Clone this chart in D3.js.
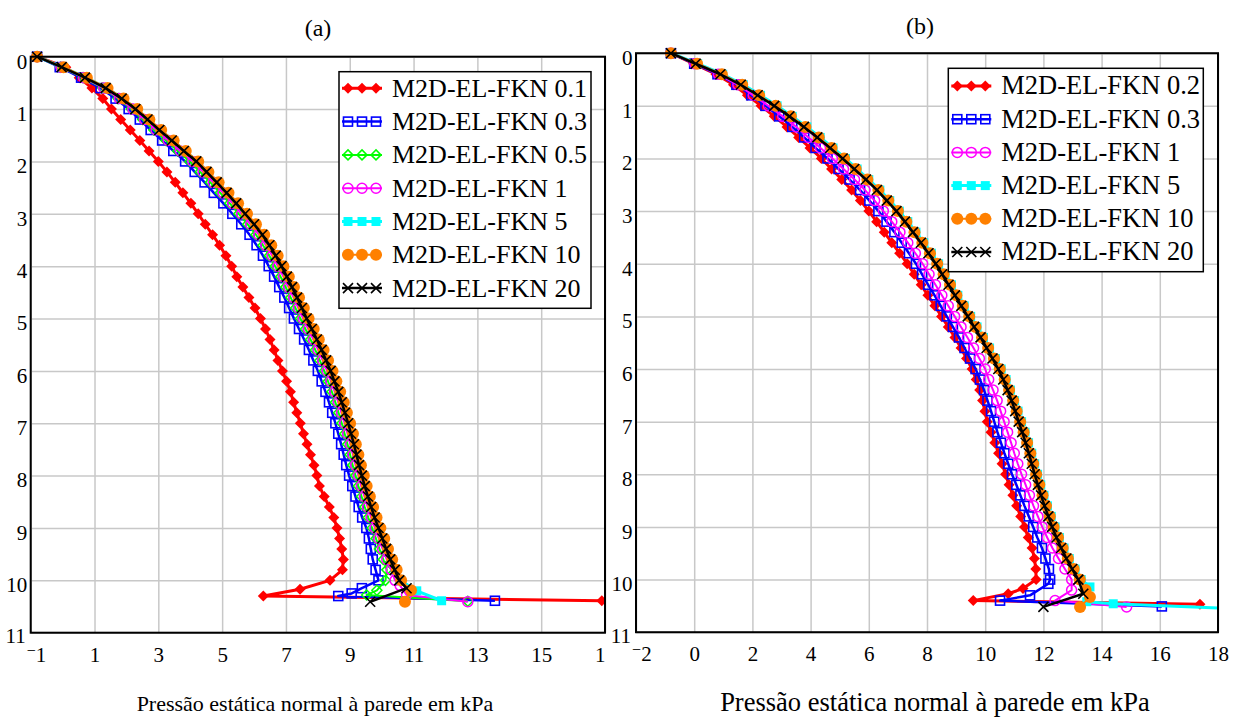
<!DOCTYPE html>
<html><head><meta charset="utf-8">
<script src="https://cdn.jsdelivr.net/npm/d3@7/dist/d3.min.js"></script>
<style>
body{margin:0;background:#fff}
svg text{font-family:"Liberation Serif","Tinos","Times New Roman","Nimbus Roman","FreeSerif","DejaVu Serif",serif !important;fill:#000}
</style>
</head><body>
<svg id="c" width="1233" height="718"></svg>
<script>
// ---------- DATA ----------
const depth = [0,0.2,0.4,0.6,0.8,1,1.2,1.4,1.6,1.8,2,2.2,2.4,2.6,2.8,3,3.2,3.4,3.6,3.8,4,4.2,4.4,4.6,4.8,5,5.2,5.4,5.6,5.8,6,6.2,6.4,6.6,6.8,7,7.2,7.4,7.6,7.8,8,8.2,8.4,8.6,8.8,9,9.2,9.4,9.6,9.8,10];

// Panel (a)
const a_01 = [-0.80,0.10,0.52,0.92,1.26,1.53,1.82,2.12,2.42,2.71,3.00,3.27,3.53,3.77,4.02,4.25,4.47,4.70,4.92,5.12,5.30,5.46,5.65,5.84,6.03,6.20,6.36,6.50,6.63,6.75,6.89,7.02,7.14,7.24,7.34,7.45,7.55,7.66,7.77,7.88,7.97,8.05,8.20,8.36,8.50,8.60,8.68,8.75,8.80,8.77,8.38];
const a_03 = [-0.80,-0.09,0.58,1.19,1.66,2.07,2.42,2.76,3.12,3.47,3.84,4.14,4.45,4.74,5.04,5.32,5.60,5.86,6.08,6.28,6.46,6.63,6.79,6.95,7.10,7.25,7.41,7.57,7.72,7.86,8.00,8.12,8.24,8.35,8.45,8.55,8.64,8.73,8.81,8.89,8.98,9.08,9.18,9.28,9.39,9.52,9.60,9.66,9.72,9.81,9.90];
const a_05 = [-0.80,-0.06,0.64,1.26,1.74,2.15,2.51,2.86,3.24,3.61,3.99,4.31,4.63,4.94,5.24,5.52,5.80,6.06,6.28,6.48,6.66,6.83,6.99,7.15,7.30,7.45,7.61,7.77,7.92,8.06,8.20,8.32,8.44,8.55,8.65,8.75,8.84,8.93,9.01,9.09,9.18,9.27,9.37,9.47,9.58,9.70,9.82,9.93,10.05,10.16,10.12];
const a_1 = [-0.80,-0.05,0.66,1.29,1.78,2.20,2.57,2.93,3.31,3.69,4.08,4.40,4.72,5.03,5.33,5.61,5.89,6.15,6.37,6.57,6.75,6.92,7.08,7.24,7.39,7.54,7.70,7.86,8.01,8.15,8.29,8.41,8.53,8.64,8.74,8.84,8.93,9.02,9.10,9.18,9.27,9.36,9.46,9.56,9.67,9.79,9.91,10.03,10.16,10.30,10.42];
const a_5 = [-0.80,0.00,0.73,1.38,1.88,2.31,2.69,3.06,3.45,3.83,4.22,4.54,4.86,5.17,5.47,5.75,6.03,6.29,6.51,6.71,6.89,7.06,7.22,7.38,7.53,7.68,7.84,8.00,8.15,8.29,8.43,8.55,8.67,8.78,8.88,8.98,9.07,9.16,9.24,9.32,9.41,9.50,9.60,9.70,9.81,9.93,10.05,10.17,10.30,10.44,10.58];
const a_10 = [-0.80,0.03,0.76,1.41,1.91,2.34,2.72,3.09,3.48,3.86,4.25,4.57,4.89,5.20,5.50,5.78,6.06,6.32,6.54,6.74,6.92,7.09,7.25,7.41,7.56,7.71,7.87,8.03,8.18,8.32,8.46,8.58,8.70,8.81,8.91,9.01,9.10,9.19,9.27,9.35,9.44,9.53,9.63,9.73,9.84,9.96,10.08,10.20,10.33,10.47,10.61];
const a_20 = [-0.80,-0.03,0.70,1.35,1.85,2.28,2.66,3.03,3.42,3.80,4.19,4.51,4.83,5.14,5.44,5.72,6.00,6.26,6.48,6.68,6.86,7.03,7.19,7.35,7.50,7.65,7.81,7.97,8.12,8.26,8.40,8.52,8.64,8.75,8.85,8.95,9.04,9.13,9.21,9.29,9.38,9.47,9.57,9.67,9.78,9.90,10.02,10.14,10.27,10.41,10.55];
const a_01_tailD = [10.17,10.30,10.39], a_01_tailP = [7.44,6.29,16.90];
const a_03_tailD = [10.15,10.25,10.30,10.39], a_03_tailP = [9.38,9.06,8.64,13.55];
const a_05_tailD = [10.19,10.28,10.40], a_05_tailP = [9.85,9.53,12.70];
const a_1_tailD = [10.10,10.28,10.41], a_1_tailP = [10.58,10.78,12.70];
const a_5_tailD = [10.20,10.39], a_5_tailP = [11.10,11.88];
const a_10_tailD = [10.19,10.41], a_10_tailP = [10.92,10.73];
const a_20_tailD = [10.15,10.41], a_20_tailP = [10.78,9.64];

// Panel (b)
const b_02 = [-0.80,-0.02,0.75,1.35,1.83,2.30,2.75,3.19,3.59,3.98,4.37,4.72,5.07,5.41,5.71,6.00,6.27,6.53,6.79,7.06,7.32,7.56,7.80,8.03,8.27,8.50,8.73,8.96,9.17,9.36,9.55,9.69,9.81,9.91,9.99,10.07,10.20,10.33,10.46,10.58,10.70,10.82,10.95,11.08,11.22,11.35,11.48,11.61,11.69,11.74,11.75];
const b_03 = [-0.80,0.00,0.80,1.45,1.96,2.45,2.92,3.37,3.78,4.17,4.58,4.96,5.34,5.70,6.02,6.33,6.61,6.88,7.13,7.38,7.62,7.83,8.04,8.26,8.47,8.68,8.89,9.10,9.29,9.48,9.67,9.82,9.96,10.08,10.20,10.31,10.42,10.54,10.66,10.79,10.92,11.07,11.21,11.35,11.50,11.65,11.79,11.95,12.07,12.19,12.23];
const b_1 = [-0.80,0.02,0.83,1.50,2.03,2.55,3.04,3.51,3.93,4.34,4.75,5.13,5.51,5.87,6.20,6.50,6.79,7.07,7.34,7.60,7.85,8.07,8.29,8.51,8.73,8.95,9.17,9.39,9.60,9.80,10.00,10.12,10.27,10.41,10.53,10.65,10.77,10.89,11.00,11.12,11.25,11.39,11.52,11.66,11.81,11.96,12.13,12.31,12.52,12.74,12.97];
const b_5 = [-0.80,0.12,0.98,1.69,2.28,2.85,3.37,3.87,4.33,4.77,5.20,5.60,6.00,6.38,6.72,7.05,7.34,7.62,7.89,8.15,8.40,8.62,8.84,9.06,9.28,9.50,9.72,9.94,10.15,10.35,10.55,10.72,10.87,11.01,11.13,11.25,11.37,11.49,11.60,11.70,11.80,11.91,12.02,12.14,12.27,12.40,12.55,12.71,12.89,13.09,13.30];
const b_10 = [-0.80,0.10,0.95,1.65,2.23,2.80,3.32,3.82,4.28,4.72,5.15,5.55,5.95,6.33,6.67,7.00,7.29,7.57,7.84,8.10,8.35,8.57,8.79,9.01,9.23,9.45,9.67,9.89,10.10,10.30,10.50,10.67,10.82,10.96,11.08,11.20,11.32,11.44,11.55,11.65,11.75,11.86,11.97,12.09,12.22,12.35,12.50,12.66,12.84,13.04,13.25];
const b_20 = [-0.80,0.05,0.90,1.60,2.18,2.75,3.27,3.77,4.23,4.67,5.10,5.50,5.90,6.28,6.62,6.95,7.24,7.52,7.79,8.05,8.30,8.52,8.74,8.96,9.18,9.40,9.62,9.84,10.05,10.25,10.45,10.62,10.77,10.91,11.03,11.15,11.27,11.39,11.50,11.60,11.70,11.81,11.92,12.04,12.17,12.30,12.45,12.61,12.79,12.99,13.20];
const b_02_tailD = [10.17,10.27,10.40,10.47], b_02_tailP = [11.30,10.79,9.59,17.38];
const b_03_tailD = [10.08,10.30,10.40,10.51], b_03_tailP = [12.17,11.54,10.51,16.07];
const b_1_tailD = [10.20,10.40,10.52], b_1_tailP = [12.97,12.40,14.86];
const b_5_tailD = [10.14,10.42,10.46,10.55], b_5_tailP = [13.60,13.49,14.40,18.40];
const b_10_tailD = [10.20,10.33,10.52], b_10_tailP = [13.45,13.60,13.26];
const b_20_tailD = [10.27,10.52], b_20_tailP = [13.37,12.00];

const labelsA = ["M2D-EL-FKN 0.1","M2D-EL-FKN 0.3","M2D-EL-FKN 0.5","M2D-EL-FKN 1","M2D-EL-FKN 5","M2D-EL-FKN 10","M2D-EL-FKN 20"];
const labelsB = ["M2D-EL-FKN 0.2","M2D-EL-FKN 0.3","M2D-EL-FKN 1","M2D-EL-FKN 5","M2D-EL-FKN 10","M2D-EL-FKN 20"];
const xTicksA = [-1,1,3,5,7,9,11,13,15,17];
const xTicksB = [-2,0,2,4,6,8,10,12,14,16,18];
const yTicks = [0,1,2,3,4,5,6,7,8,9,10,11];
const axisTitle = "Pressão estática normal à parede em kPa";

// ---------- STYLES ----------
const sty = {
  red:    {color:"#ff0000", w:3,   m:"diamondFill"},
  blue:   {color:"#0000ff", w:2.5, m:"squareOpen"},
  green:  {color:"#00ff00", w:2,   m:"diamondOpen"},
  mag:    {color:"#ff00ff", w:2,   m:"circleOpen"},
  cyan:   {color:"#00ffff", w:3,   m:"squareFill"},
  orange: {color:"#ff8000", w:2,   m:"circleFill"},
  black:  {color:"#000000", w:2.5, m:"cross"}
};
function pts(p, tD, tP){ return depth.map((d,i)=>[p[i],d]).concat(tD.map((d,i)=>[tP[i],d])); }

const seriesA = [
  {label:labelsA[0], s:sty.red,    data:pts(a_01,a_01_tailD,a_01_tailP)},
  {label:labelsA[1], s:sty.blue,   data:pts(a_03,a_03_tailD,a_03_tailP)},
  {label:labelsA[2], s:sty.green,  data:pts(a_05,a_05_tailD,a_05_tailP)},
  {label:labelsA[3], s:sty.mag,    data:pts(a_1,a_1_tailD,a_1_tailP)},
  {label:labelsA[4], s:sty.cyan,   data:pts(a_5,a_5_tailD,a_5_tailP)},
  {label:labelsA[5], s:sty.orange, data:pts(a_10,a_10_tailD,a_10_tailP)},
  {label:labelsA[6], s:sty.black,  data:pts(a_20,a_20_tailD,a_20_tailP)}
];
const seriesB = [
  {label:labelsB[0], s:sty.red,    data:pts(b_02,b_02_tailD,b_02_tailP)},
  {label:labelsB[1], s:sty.blue,   data:pts(b_03,b_03_tailD,b_03_tailP)},
  {label:labelsB[2], s:sty.mag,    data:pts(b_1,b_1_tailD,b_1_tailP)},
  {label:labelsB[3], s:sty.cyan,   data:pts(b_5,b_5_tailD,b_5_tailP)},
  {label:labelsB[4], s:sty.orange, data:pts(b_10,b_10_tailD,b_10_tailP)},
  {label:labelsB[5], s:sty.black,  data:pts(b_20,b_20_tailD,b_20_tailP)}
];

const panels = [
  {id:"a", left:30.7, top:56.7, right:605, bottom:632.7, xDom:[-1,17], xTicks:xTicksA,
   title:"(a)", titleX:318, titleY:36, atX:315, atFont:22, lblClip:606,
   leg:{x:339, y:71.7, w:252, h:236.6, row0:88.3, dy:33.3, font:26}, series:seriesA},
  {id:"b", left:636, top:53.2, right:1218, bottom:632.2, xDom:[-2,18], xTicks:xTicksB,
   title:"(b)", titleX:920, titleY:34, atX:935, atFont:26.5, lblClip:1233,
   leg:{x:948.3, y:68.3, w:255, h:203.4, row0:86, dy:33.2, font:26.5}, series:seriesB}
];

const svg = d3.select("#c");
const FONT = '"Liberation Serif","Tinos","Times New Roman","Nimbus Roman","FreeSerif","DejaVu Serif",serif';

function marker(g, type, color, cx, cy){
  switch(type){
    case "diamondFill": g.append("path").attr("d",`M${cx},${cy-5.5}L${cx+5.5},${cy}L${cx},${cy+5.5}L${cx-5.5},${cy}Z`).attr("fill",color); break;
    case "diamondOpen": g.append("path").attr("d",`M${cx},${cy-5}L${cx+5},${cy}L${cx},${cy+5}L${cx-5},${cy}Z`).attr("fill","none").attr("stroke",color).attr("stroke-width",1.5); break;
    case "squareOpen": g.append("rect").attr("x",cx-4.5).attr("y",cy-4.5).attr("width",9).attr("height",9).attr("fill","none").attr("stroke",color).attr("stroke-width",1.6); break;
    case "squareFill": g.append("rect").attr("x",cx-4.5).attr("y",cy-4.5).attr("width",9).attr("height",9).attr("fill",color); break;
    case "circleOpen": g.append("circle").attr("cx",cx).attr("cy",cy).attr("r",5).attr("fill","none").attr("stroke",color).attr("stroke-width",1.5); break;
    case "circleFill": g.append("circle").attr("cx",cx).attr("cy",cy).attr("r",6).attr("fill",color); break;
    case "cross": g.append("path").attr("d",`M${cx-5},${cy-5}L${cx+5},${cy+5}M${cx-5},${cy+5}L${cx+5},${cy-5}`).attr("stroke",color).attr("stroke-width",1.6).attr("fill","none"); break;
  }
}

panels.forEach(p=>{
  const x = d3.scaleLinear().domain(p.xDom).range([p.left,p.right]);
  const y = d3.scaleLinear().domain([0,11]).range([p.top,p.bottom]);
  const g = svg.append("g");
  const W = p.right-p.left, H = p.bottom-p.top;

  // grid
  g.append("g").attr("transform",`translate(0,${p.bottom})`)
    .call(d3.axisBottom(x).tickValues(p.xTicks).tickSize(-H).tickFormat(""))
    .call(a=>a.select(".domain").remove())
    .call(a=>a.selectAll("line").attr("stroke","#c8c8c8").attr("stroke-width",1.5));
  g.append("g").attr("transform",`translate(${p.left},0)`)
    .call(d3.axisLeft(y).tickValues(yTicks).tickSize(-W).tickFormat(""))
    .call(a=>a.select(".domain").remove())
    .call(a=>a.selectAll("line").attr("stroke","#c8c8c8").attr("stroke-width",1.5));

  // clip
  const cid = "clip"+p.id;
  svg.append("clipPath").attr("id",cid).append("rect")
    .attr("x",p.left).attr("y",p.top-8).attr("width",W).attr("height",H+8);
  const plot = g.append("g").attr("clip-path",`url(#${cid})`);
  const line = d3.line().x(d=>x(d[0])).y(d=>y(d[1]));
  p.series.forEach(se=>{
    const sg = plot.append("g");
    sg.append("path").datum(se.data).attr("d",line).attr("fill","none")
      .attr("stroke",se.s.color).attr("stroke-width",se.s.w).attr("stroke-linejoin","round");
    se.data.forEach(d=>marker(sg, se.s.m, se.s.color, x(d[0]), y(d[1])));
  });

  // frame
  g.append("rect").attr("x",p.left).attr("y",p.top).attr("width",W).attr("height",H)
    .attr("fill","none").attr("stroke","#000").attr("stroke-width",2);

  // x tick labels
  const lclip = "lclip"+p.id;
  svg.append("clipPath").attr("id",lclip).append("rect").attr("x",0).attr("y",0).attr("width",p.lblClip).attr("height",718);
  const xa = g.append("g").attr("clip-path",`url(#${lclip})`).attr("transform",`translate(0,${p.bottom})`)
    .call(d3.axisBottom(x).tickValues(p.xTicks).tickSize(0).tickFormat(d=>d<0?"\u2212"+Math.abs(d):String(d)));
  xa.select(".domain").remove();
  xa.attr("font-family",FONT);
  xa.selectAll("text").attr("y",29).attr("dy",0).attr("font-size",21)
    .each(function(d){
      if(d<0){
        const t=d3.select(this); t.text(null).attr("text-anchor","start").attr("x",-4.4);
        t.append("tspan").attr("font-size",16).attr("dy",-6).text("\u2212");
        t.append("tspan").attr("dy",6).text(String(Math.abs(d)));
      }
    });

  // y tick labels
  const ya = g.append("g").attr("transform",`translate(${p.left},0)`)
    .call(d3.axisLeft(y).tickValues(yTicks).tickSize(0).tickFormat(d=>String(d)));
  ya.select(".domain").remove();
  ya.attr("font-family",FONT);
  ya.selectAll("text").attr("x",d=>d===11?-5:-3.5).attr("y",d=>d===11?2.5:4).attr("dy","0.35em").attr("font-size",21);

  // titles
  svg.append("text").attr("x",p.titleX).attr("y",p.titleY).attr("text-anchor","middle")
    .attr("font-family",FONT).attr("font-size",24).text(p.title);
  svg.append("text").attr("x",p.atX).attr("y",711).attr("text-anchor","middle")
    .attr("font-family",FONT).attr("font-size",p.atFont).text(axisTitle);

  // legend
  const L = p.leg;
  const lg = svg.append("g").attr("font-family",FONT);
  lg.append("rect").attr("x",L.x).attr("y",L.y).attr("width",L.w).attr("height",L.h)
    .attr("fill","#fff").attr("stroke","#000").attr("stroke-width",1.5);
  p.series.forEach((se,i)=>{
    const ry = L.row0 + i*L.dy, lx = L.x+3;
    lg.append("line").attr("x1",lx).attr("x2",lx+40).attr("y1",ry).attr("y2",ry)
      .attr("stroke",se.s.color).attr("stroke-width",se.s.w);
    [lx+6, lx+20, lx+34].forEach(mx=>marker(lg, se.s.m, se.s.color, mx, ry));
    lg.append("text").attr("x",lx+50).attr("y",ry+8.4).attr("font-size",L.font).text(se.label);
  });
});
</script>
</body></html>
